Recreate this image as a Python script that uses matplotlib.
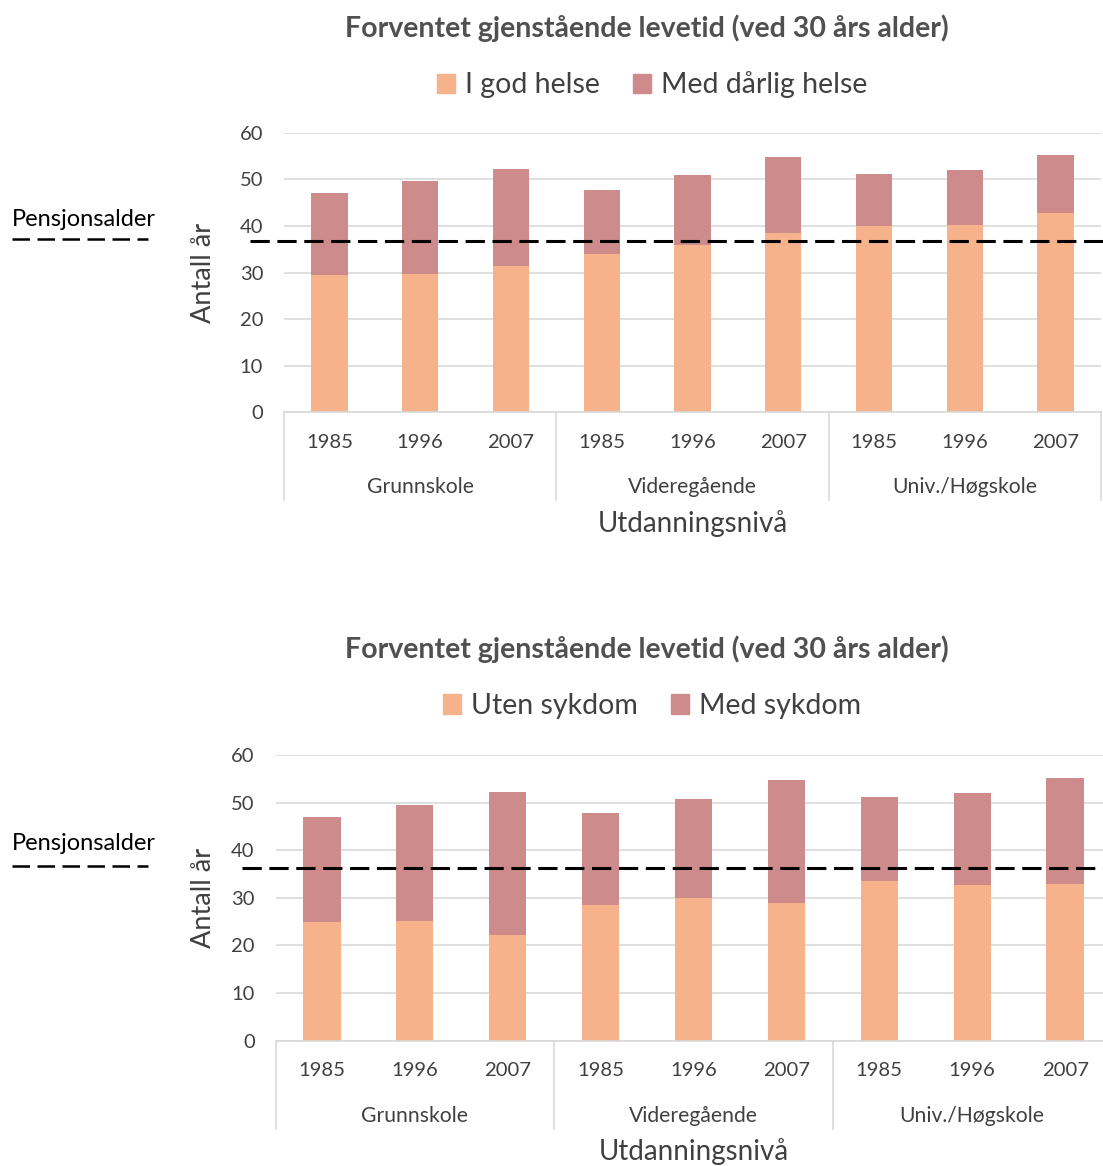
import matplotlib.pyplot as plt
from matplotlib.lines import Line2D
from matplotlib.patches import Patch
import matplotlib.transforms as mtransforms

plt.rcParams['font.family'] = ['Lato', 'DejaVu Sans']

# years and education groups on the category axis
years = ["1985", "1996", "2007"] * 3
groups = ["Grunnskole", "Videregående", "Univ./Høgskole"]

# top chart: healthy years vs years in poor health
god_helse = [29.5, 29.7, 31.5, 33.9, 35.8, 38.5, 39.9, 40.1, 42.8]
darlig_helse = [17.5, 19.9, 20.7, 13.9, 15.1, 16.3, 11.3, 11.8, 12.4]

# bottom chart: years without vs with disease
uten_sykdom = [24.9, 25.2, 22.3, 28.6, 30.0, 28.9, 33.5, 32.8, 33.0]
med_sykdom = [22.0, 24.4, 29.9, 19.2, 20.8, 25.9, 17.6, 19.2, 22.1]

pensjonsalder_top = 36.7
pensjonsalder_bottom = 36.2

title = "Forventet gjenstående levetid (ved 30 års alder)"

ORANGE = "#F5B28B"
ROSE = "#CD8B8B"
GRID = "#D9D9D9"
TXT = "#404040"

W, H = 1103, 1166
fig = plt.figure(figsize=(W / 100, H / 100), dpi=100)


def fy(py):
    return 1 - py / H


def fx(px):
    return px / W


def draw_chart(left, right, top, bottom, low, high, names, ref, ref_x0,
               title_y, legend_y, pens_y, line_y):
    ax = fig.add_axes([fx(left), fy(bottom), fx(right - left), fy(top) - fy(bottom)])
    ax_h = bottom - top
    x = list(range(len(years)))
    ax.bar(x, low, width=0.4, color=ORANGE, linewidth=0, zorder=2)
    ax.bar(x, high, width=0.4, bottom=low, color=ROSE, linewidth=0, zorder=2)

    ax.set_xlim(-0.5, len(years) - 0.5)
    ax.set_ylim(0, 60)
    ax.set_yticks(range(0, 61, 10))
    ax.yaxis.grid(True, color=GRID, linewidth=1.2, zorder=0)
    ax.set_axisbelow(True)
    for s in ["top", "right", "left"]:
        ax.spines[s].set_visible(False)
    ax.spines["bottom"].set_color(GRID)
    ax.spines["bottom"].set_linewidth(1.2)
    ax.tick_params(axis="y", length=0, pad=15, labelsize=14.5, labelcolor=TXT)
    ax.set_xticks([])

    ax.set_ylabel("Antall år", fontsize=19.5, color=TXT)
    ax.yaxis.set_label_coords((216 - left) / (right - left), 0.5)

    trans = mtransforms.blended_transform_factory(ax.transData, ax.transAxes)
    for i, y in enumerate(years):
        ax.text(i, -30 / ax_h, y, transform=trans, ha="center", va="center",
                fontsize=14.6, color=TXT)
    for g, name in enumerate(groups):
        ax.text(g * 3 + 1, -75 / ax_h, name, transform=trans, ha="center",
                va="center", fontsize=15.2, color=TXT)
    for g in range(len(groups) + 1):
        ax.plot([g * 3 - 0.5] * 2, [0, -88 / ax_h], transform=trans,
                color=GRID, linewidth=1.2, clip_on=False)
    ax.text(4, -111 / ax_h, "Utdanningsnivå", transform=trans, ha="center",
            va="center", fontsize=20, color=TXT)

    # retirement age line across the chart
    ref_trans = mtransforms.blended_transform_factory(fig.transFigure, ax.transData)
    ax.add_line(Line2D([fx(ref_x0), 1.0], [ref, ref], transform=ref_trans,
                       color="black", linewidth=2.2, dashes=(6.3, 2.5),
                       clip_on=False, zorder=5))

    fig.text(fx(647), fy(title_y), title, ha="center", va="center",
             fontsize=20.5, fontweight="bold", color="#505050")
    handles = [Patch(color=ORANGE), Patch(color=ROSE)]
    fig.legend(handles, names, loc="center", bbox_to_anchor=(fx(652), fy(legend_y)),
               ncol=2, frameon=False, fontsize=20.5, handlelength=0.65,
               handleheight=0.65, handletextpad=0.35, columnspacing=1.15,
               labelcolor=TXT)

    fig.text(fx(12), fy(pens_y), "Pensjonsalder", ha="left", va="center",
             fontsize=17, color="black")
    fig.add_artist(Line2D([fx(12), fx(148)], [fy(line_y), fy(line_y)],
                          transform=fig.transFigure, color="black",
                          linewidth=1.8, dashes=(7, 3)))
    return ax


draw_chart(284, 1101, 132.7, 412.3, god_helse, darlig_helse,
           ["I god helse", "Med dårlig helse"], pensjonsalder_top, 250,
           28, 85, 219, 239)
draw_chart(275.5, 1111.5, 755, 1040.7, uten_sykdom, med_sykdom,
           ["Uten sykdom", "Med sykdom"], pensjonsalder_bottom, 242,
           649, 706, 844, 866)

fig.savefig("out.png", dpi=100)
